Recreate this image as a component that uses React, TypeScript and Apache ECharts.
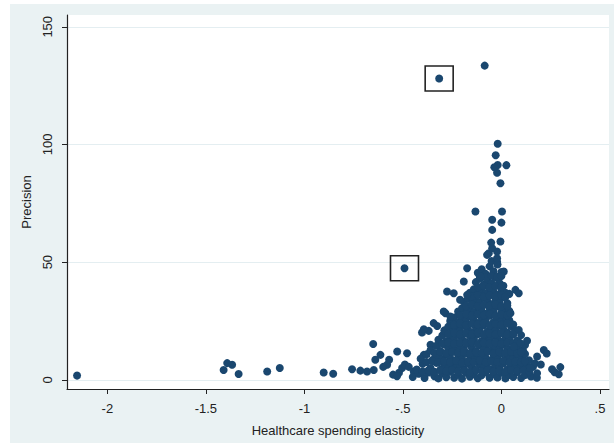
import React, { useEffect, useRef } from "react";
import * as echarts from "echarts";

const xTicks = [-2, -1.5, -1, -0.5, 0, 0.5];
const xTickLabels = ["-2", "-1.5", "-1", "-.5", "0", ".5"];
const yTicks = [0, 50, 100, 150];
const yTickLabels = ["0", "50", "100", "150"];
const xTitle = "Healthcare spending elasticity";
const yTitle = "Precision";

// Isolated studies on the far left
const leftPoints: number[][] = [
  [-2.154, 1.8], [-1.41, 4.2], [-1.392, 7.1], [-1.367, 6.4], [-1.334, 2.5],
  [-1.189, 3.5], [-1.125, 5.0], [-0.902, 3.1], [-0.854, 2.6], [-0.758, 4.5],
  [-0.716, 3.9], [-0.682, 3.5], [-0.648, 4.2], [-0.651, 15.2], [-0.614, 10.6],
  [-0.64, 8.5], [-0.58, 6.4], [-0.529, 12.0], [-0.479, 11.3], [-0.504, 5.0],
  [-0.445, 3.5], [-0.394, 10.6], [-0.403, 20.1], [-0.369, 20.8], [-0.326, 22.9],
  [-0.284, 28.3], [-0.36, 14.9], [-0.344, 8.5], [-0.55, 2.2], [-0.6, 5.5],
  [-0.52, 3.0], [-0.49, 6.5], [-0.57, 8.5], [-0.53, 1.5],
];

// Dense cluster near zero
const clusterPoints: number[][] = [
  [-0.45, 1.2], [-0.42, 2.6], [-0.39, 0.8], [-0.37, 3.1], [-0.34, 1.5], [-0.32, 0.6], [-0.3, 2.8], [-0.28, 1.1],
  [-0.26, 3.4], [-0.24, 0.9], [-0.22, 2.2], [-0.2, 0.5], [-0.18, 3.0], [-0.16, 1.3], [-0.14, 2.5], [-0.12, 0.7],
  [-0.1, 1.9], [-0.08, 3.2], [-0.06, 0.9], [-0.04, 2.4], [-0.02, 1.0], [0.0, 3.0], [0.02, 0.6], [0.04, 2.1],
  [0.06, 1.2], [0.08, 3.3], [0.1, 0.8], [0.12, 2.0], [0.15, 1.4], [0.18, 0.9],
  [-0.47, 5.5], [-0.43, 4.4], [-0.4, 6.8], [-0.36, 5.0], [-0.33, 7.2], [-0.31, 4.3], [-0.29, 6.1], [-0.27, 4.8],
  [-0.25, 7.0], [-0.23, 5.2], [-0.21, 6.5], [-0.19, 4.6], [-0.17, 6.9], [-0.15, 5.3], [-0.13, 4.2], [-0.11, 6.4],
  [-0.09, 5.1], [-0.07, 7.1], [-0.05, 4.5], [-0.03, 6.2], [-0.01, 5.0], [0.01, 7.0], [0.03, 4.4], [0.05, 6.3],
  [0.07, 5.2], [0.09, 7.3], [0.11, 4.7], [0.13, 6.0], [0.16, 5.5],
  [-0.41, 9.0], [-0.38, 10.8], [-0.35, 8.4], [-0.32, 10.2], [-0.3, 8.8], [-0.28, 11.0], [-0.26, 9.3], [-0.24, 8.1],
  [-0.22, 10.5], [-0.2, 9.0], [-0.18, 11.2], [-0.16, 8.5], [-0.14, 10.1], [-0.12, 8.8], [-0.1, 11.0], [-0.08, 9.4],
  [-0.06, 8.2], [-0.04, 10.6], [-0.02, 9.1], [0.0, 11.3], [0.02, 8.6], [0.04, 10.0], [0.06, 8.9], [0.08, 10.8],
  [0.1, 9.2], [0.12, 11.0], [0.14, 8.3],
  [-0.36, 12.6], [-0.33, 14.5], [-0.31, 12.2], [-0.29, 15.0], [-0.27, 13.1], [-0.25, 14.8], [-0.23, 12.4], [-0.21, 14.0],
  [-0.19, 12.9], [-0.17, 15.3], [-0.15, 13.5], [-0.13, 12.1], [-0.11, 14.6], [-0.09, 13.0], [-0.07, 15.1], [-0.05, 12.5],
  [-0.03, 14.2], [-0.01, 12.8], [0.01, 15.0], [0.03, 13.3], [0.05, 12.0], [0.07, 14.4], [0.09, 13.0], [0.11, 12.4],
  [-0.32, 17.0], [-0.3, 18.8], [-0.28, 16.3], [-0.26, 18.2], [-0.24, 16.9], [-0.22, 19.1], [-0.2, 17.4], [-0.18, 16.1],
  [-0.16, 18.6], [-0.14, 17.2], [-0.12, 19.3], [-0.1, 16.5], [-0.08, 18.0], [-0.06, 16.8], [-0.04, 19.0], [-0.02, 17.5],
  [0.0, 16.2], [0.02, 18.4], [0.04, 17.0], [0.06, 19.2], [0.08, 16.6],
  [-0.29, 21.0], [-0.27, 22.6], [-0.25, 20.4], [-0.23, 22.1], [-0.21, 20.8], [-0.19, 23.0], [-0.17, 21.3], [-0.15, 20.2],
  [-0.13, 22.5], [-0.11, 21.0], [-0.09, 23.2], [-0.07, 20.6], [-0.05, 22.0], [-0.03, 20.9], [-0.01, 23.1], [0.01, 21.4],
  [0.03, 20.1], [0.05, 22.7], [0.07, 21.0],
  [-0.26, 25.0], [-0.24, 26.5], [-0.22, 24.3], [-0.2, 26.0], [-0.18, 24.8], [-0.16, 27.0], [-0.14, 25.2], [-0.12, 24.1],
  [-0.1, 26.4], [-0.08, 25.0], [-0.06, 27.2], [-0.04, 24.5], [-0.02, 26.1], [0.0, 24.9], [0.02, 27.0], [0.04, 25.3],
  [-0.22, 29.0], [-0.2, 30.4], [-0.18, 28.3], [-0.16, 30.0], [-0.14, 28.8], [-0.12, 31.0], [-0.1, 29.2], [-0.08, 28.1],
  [-0.06, 30.5], [-0.04, 29.0], [-0.02, 31.2], [0.0, 28.6], [0.02, 30.1], [0.04, 29.3],
  [-0.19, 33.0], [-0.17, 34.6], [-0.15, 32.4], [-0.13, 34.0], [-0.11, 32.8], [-0.09, 35.0], [-0.07, 33.2], [-0.05, 32.1],
  [-0.03, 34.4], [-0.01, 33.0], [0.01, 35.1], [0.03, 32.6],
  [-0.16, 37.0], [-0.14, 38.5], [-0.12, 36.3], [-0.1, 38.0], [-0.08, 36.8], [-0.06, 39.0], [-0.04, 37.2], [-0.02, 36.1],
  [0.0, 38.4], [0.02, 37.0],
  [-0.13, 41.5], [-0.11, 43.0], [-0.09, 40.4], [-0.07, 42.2], [-0.05, 40.9], [-0.03, 43.4], [-0.01, 41.2], [0.01, 40.0],
  [-0.12, 45.5], [-0.1, 47.0], [-0.08, 45.0], [-0.06, 48.2], [-0.04, 46.1], [-0.02, 49.0], [0.0, 45.8], [0.012, 46.0],
  [-0.05, 50.5], [-0.022, 50.3],
  [0.14, 3.2], [0.17, 7.0], [0.12, 14.8], [0.1, 6.2], [0.06, 23.5], [0.03, 27.8], [-0.21, 34.0], [0.04, 36.5],
];

// Second layer of studies inside the dense cluster
const clusterFill: number[][] = [
  [-0.4, 3.6], [-0.37, 4.1], [-0.34, 3.4], [-0.31, 4.0], [-0.28, 3.7], [-0.25, 4.2], [-0.22, 3.5], [-0.19, 3.9],
  [-0.16, 3.3], [-0.13, 4.1], [-0.1, 3.6], [-0.07, 4.3], [-0.04, 3.5], [-0.01, 3.9], [0.02, 3.4], [0.05, 4.2],
  [0.08, 3.7], [0.11, 4.0], [0.14, 3.6],
  [-0.38, 7.6], [-0.35, 8.0], [-0.32, 7.4], [-0.29, 7.9], [-0.26, 7.5], [-0.23, 8.1], [-0.2, 7.3], [-0.17, 7.8],
  [-0.14, 7.5], [-0.11, 8.2], [-0.08, 7.4], [-0.05, 7.9], [-0.02, 7.6], [0.01, 8.1], [0.04, 7.3], [0.07, 7.8],
  [0.1, 7.5], [0.12, 7.9],
  [-0.34, 11.4], [-0.31, 11.9], [-0.28, 11.3], [-0.25, 11.8], [-0.22, 11.5], [-0.19, 12.0], [-0.16, 11.2], [-0.13, 11.7],
  [-0.1, 11.4], [-0.07, 12.0], [-0.04, 11.3], [-0.01, 11.8], [0.02, 11.5], [0.05, 11.9], [0.08, 11.3], [0.1, 11.7],
  [-0.3, 15.4], [-0.27, 15.9], [-0.24, 15.3], [-0.21, 15.8], [-0.18, 15.5], [-0.15, 16.0], [-0.12, 15.2], [-0.09, 15.7],
  [-0.06, 15.4], [-0.03, 16.0], [0.0, 15.3], [0.03, 15.8], [0.06, 15.5], [0.08, 15.9],
  [-0.27, 19.4], [-0.24, 19.9], [-0.21, 19.3], [-0.18, 19.8], [-0.15, 19.5], [-0.12, 20.0], [-0.09, 19.2], [-0.06, 19.7],
  [-0.03, 19.4], [0.0, 19.9], [0.03, 19.3], [0.06, 19.6],
  [-0.24, 23.4], [-0.21, 23.9], [-0.18, 23.3], [-0.15, 23.8], [-0.12, 23.5], [-0.09, 24.0], [-0.06, 23.2], [-0.03, 23.7],
  [0.0, 23.4], [0.03, 23.9],
  [-0.21, 27.4], [-0.18, 27.9], [-0.15, 27.3], [-0.12, 27.8], [-0.09, 27.5], [-0.06, 28.0], [-0.03, 27.2], [0.0, 27.7],
  [0.03, 27.4],
  [-0.18, 31.4], [-0.15, 31.9], [-0.12, 31.3], [-0.09, 31.8], [-0.06, 31.5], [-0.03, 32.0], [0.0, 31.2], [0.03, 31.6],
  [-0.15, 35.4], [-0.12, 35.9], [-0.09, 35.3], [-0.06, 35.8], [-0.03, 35.5], [0.0, 36.0], [0.02, 35.2],
  [-0.12, 39.4], [-0.09, 39.9], [-0.06, 39.3], [-0.03, 39.8], [0.0, 39.5],
  [-0.11, 44.0], [-0.08, 43.5], [-0.05, 44.2], [-0.02, 43.8], [0.0, 44.1],
];

// Outlying points around the cluster and the vertical tail
const outerPoints: number[][] = [
  [-0.174, 47.4], [-0.191, 41.8], [-0.107, 43.9], [-0.276, 37.5], [-0.242, 36.8], [-0.174, 36.1],
  [0.071, 38.2], [0.088, 36.8], [-0.293, 29.0], [-0.259, 26.9], [-0.344, 24.1], [-0.394, 21.5],
  [0.046, 28.3], [0.088, 21.2], [0.13, 16.6], [0.215, 12.7], [0.181, 9.9], [0.147, 5.0], [0.181, 2.8],
  [0.257, 4.5], [0.299, 5.4], [0.291, 2.4], [0.096, 15.6], [0.063, 14.1], [0.23, 11.2], [0.27, 3.2],
  [0.2, 6.5], [0.1, 19.0],
  [-0.064, 53.8], [-0.022, 54.5], [-0.022, 51.7], [-0.073, 53.1], [-0.047, 55.9], [-0.052, 58.3],
  [-0.005, 58.8], [-0.047, 63.7], [-0.047, 68.0], [0.0, 66.8], [-0.132, 71.5], [0.003, 71.5],
  [-0.005, 83.5], [-0.022, 88.0], [0.025, 91.2], [-0.019, 91.3], [-0.036, 90.3], [-0.029, 95.4],
  [-0.019, 100.3], [-0.085, 133.5],
];

// Highlighted (boxed) studies
const boxedPoints: number[][] = [
  [-0.316, 128.0],
  [-0.492, 47.4],
];

const allPoints = [...leftPoints, ...clusterPoints, ...clusterFill, ...outerPoints, ...boxedPoints];

export default function App() {
  const ref = useRef<HTMLDivElement>(null);

  useEffect(() => {
    document.body.style.margin = "0";
    if (!ref.current) return;
    const chart = echarts.init(ref.current, null, { renderer: "svg" });
    const font = "'Liberation Sans', Arial, sans-serif";
    const textColor = "#222";
    chart.setOption({
      animation: false,
      backgroundColor: "#eaf2f3",
      grid: {
        show: true,
        backgroundColor: "#ffffff",
        borderWidth: 0,
        left: 57,
        top: 11,
        right: 5,
        bottom: 54,
      },
      xAxis: {
        type: "value",
        min: -2.205,
        max: 0.546,
        splitNumber: 5,
        name: xTitle,
        nameLocation: "middle",
        nameGap: 35,
        nameTextStyle: { fontFamily: font, fontSize: 13, color: textColor },
        axisLine: { show: true, onZero: false, lineStyle: { color: "#222", width: 1.2 } },
        axisTick: { show: true, length: 5, customValues: xTicks, lineStyle: { color: "#222" } },
        axisLabel: {
          customValues: xTicks,
          margin: 13,
          fontFamily: font,
          fontSize: 13,
          color: textColor,
          formatter: (v: number) => {
            const i = xTicks.findIndex((t) => Math.abs(t - v) < 1e-6);
            return i >= 0 ? xTickLabels[i] : "";
          },
        },
        splitLine: { show: false },
      },
      yAxis: {
        type: "value",
        min: -3.9,
        max: 155,
        splitNumber: 3,
        name: yTitle,
        nameLocation: "middle",
        nameGap: 31,
        nameRotate: 90,
        nameTextStyle: { fontFamily: font, fontSize: 13, color: textColor },
        axisLine: { show: true, onZero: false, lineStyle: { color: "#222", width: 1.2 } },
        axisTick: { show: true, length: 5, customValues: yTicks, lineStyle: { color: "#222" } },
        axisLabel: {
          customValues: yTicks,
          rotate: 90,
          margin: 13,
          fontFamily: font,
          fontSize: 13,
          color: textColor,
          formatter: (v: number) => {
            const i = yTicks.findIndex((t) => Math.abs(t - v) < 1e-6);
            return i >= 0 ? yTickLabels[i] : "";
          },
        },
        splitLine: { show: true, lineStyle: { color: "#e4eef1", width: 1 } },
      },
      series: [
        {
          type: "scatter",
          data: allPoints,
          symbol: "circle",
          symbolSize: 8,
          itemStyle: { color: "#1a476f", opacity: 1 },
          silent: true,
        },
        {
          type: "scatter",
          data: boxedPoints,
          symbol: "rect",
          symbolSize: [28, 25],
          itemStyle: { color: "rgba(0,0,0,0)", borderColor: "#222", borderWidth: 1.5, opacity: 1 },
          silent: true,
          z: 5,
        },
      ],
    });
    return () => chart.dispose();
  }, []);

  return (
    <div style={{ position: "relative", width: 614, height: 443, background: "#ffffff" }}>
      <div
        ref={ref}
        style={{ position: "absolute", left: 10, top: 4, width: 604, height: 439 }}
      />
    </div>
  );
}
